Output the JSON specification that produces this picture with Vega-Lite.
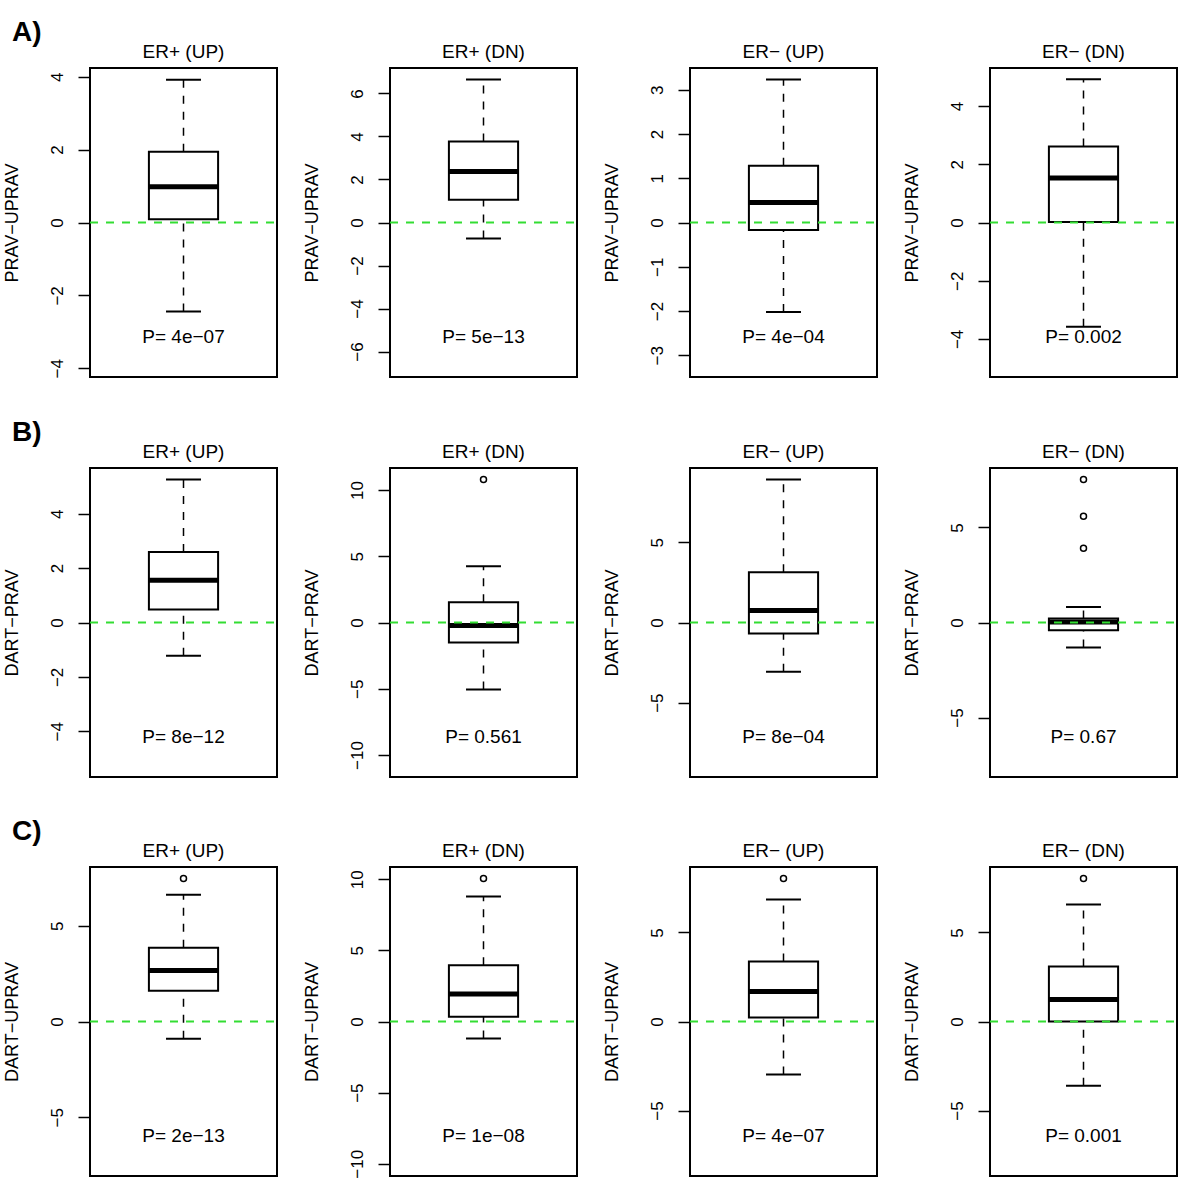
{
"$schema": "https://vega.github.io/schema/vega-lite/v6.json",
"background": "white",
"padding": {"left": 1, "top": 19, "right": 5, "bottom": 5},
"datasets": {
 "stats": [
  {"panel":"A1","lo":-2.44,"q1":0.09,"med":0.98,"q3":1.94,"hi":3.92,"p":"P= 4e−07"},
  {"panel":"A2","lo":-0.74,"q1":1.06,"med":2.37,"q3":3.77,"hi":6.65,"p":"P= 5e−13"},
  {"panel":"A3","lo":-2.02,"q1":-0.17,"med":0.45,"q3":1.28,"hi":3.23,"p":"P= 4e−04"},
  {"panel":"A4","lo":-3.58,"q1":0.02,"med":1.53,"q3":2.61,"hi":4.92,"p":"P= 0.002"},
  {"panel":"B1","lo":-1.22,"q1":0.48,"med":1.55,"q3":2.59,"hi":5.26,"p":"P= 8e−12"},
  {"panel":"B2","lo":-5.06,"q1":-1.51,"med":-0.23,"q3":1.53,"hi":4.25,"p":"P= 0.561"},
  {"panel":"B3","lo":-3.08,"q1":-0.69,"med":0.75,"q3":3.14,"hi":8.93,"p":"P= 8e−04"},
  {"panel":"B4","lo":-1.32,"q1":-0.41,"med":0.02,"q3":0.21,"hi":0.82,"p":"P= 0.67"},
  {"panel":"C1","lo":-0.9,"q1":1.6,"med":2.66,"q3":3.85,"hi":6.61,"p":"P= 2e−13"},
  {"panel":"C2","lo":-1.19,"q1":0.33,"med":1.94,"q3":3.95,"hi":8.79,"p":"P= 1e−08"},
  {"panel":"C3","lo":-2.98,"q1":0.22,"med":1.69,"q3":3.37,"hi":6.85,"p":"P= 4e−07"},
  {"panel":"C4","lo":-3.6,"q1":0.0,"med":1.24,"q3":3.09,"hi":6.57,"p":"P= 0.001"}
 ],
 "outliers": [
  {"panel":"B2","v":10.8},
  {"panel":"B4","v":7.53},
  {"panel":"B4","v":5.59},
  {"panel":"B4","v":3.91},
  {"panel":"C1","v":7.46},
  {"panel":"C2","v":10.06},
  {"panel":"C3","v":8.03},
  {"panel":"C4","v":8.03}
 ]
},
"spacing": 40,
"vconcat": [
 {"title": {"text": "A)", "anchor": "start", "frame": "bounds", "fontSize": 28, "fontWeight": "bold", "offset": -5, "dx": 10},
  "spacing": 113, "bounds": "flush",
  "hconcat": [
   {"width":187,"height":309,"title":"ER+ (UP)","data":{"name":"stats"},"transform":[{"filter":"datum.panel=='A1'"}],
    "encoding":{"y":{"field":"q1","type":"quantitative","scale":{"domain":[-4.24,4.24],"nice":false,"zero":false},"axis":{"values":[-4,-2,0,2,4]},"title":"PRAV−UPRAV"},"x":{"datum":0.5,"type":"quantitative","scale":{"domain":[0,1],"nice":false,"zero":false}}},
    "layer":[
     {"mark":{"type":"rule","strokeDash":[8,8],"strokeWidth":1.5},"encoding":{"y":{"field":"q3","type":"quantitative"},"y2":{"field":"hi"}}},
     {"mark":{"type":"rule","strokeDash":[8,8],"strokeWidth":1.5},"encoding":{"y":{"field":"lo","type":"quantitative"},"y2":{"field":"q1"}}},
     {"mark":{"type":"rule","strokeWidth":2},"encoding":{"x":{"datum":0.4065},"x2":{"datum":0.5935},"y":{"field":"hi","type":"quantitative"}}},
     {"mark":{"type":"rule","strokeWidth":2},"encoding":{"x":{"datum":0.4065},"x2":{"datum":0.5935},"y":{"field":"lo","type":"quantitative"}}},
     {"mark":{"type":"rect","fill":"white","stroke":"black","strokeWidth":2},"encoding":{"x":{"datum":0.315},"x2":{"datum":0.685},"y2":{"field":"q3"}}},
     {"mark":{"type":"rule","strokeWidth":5},"encoding":{"x":{"datum":0.315},"x2":{"datum":0.685},"y":{"field":"med","type":"quantitative"}}},
     {"mark":{"type":"rule","color":"#33dd33","strokeDash":[8,8],"strokeWidth":2},"encoding":{"x":{"datum":0},"x2":{"datum":1},"y":{"datum":0}}},
     {"mark":{"type":"text","fontSize":19},"encoding":{"y":{"datum":-3.14},"text":{"field":"p"}}}
    ]},
   {"width":187,"height":309,"title":"ER+ (DN)","data":{"name":"stats"},"transform":[{"filter":"datum.panel=='A2'"}],
    "encoding":{"y":{"field":"q1","type":"quantitative","scale":{"domain":[-7.18,7.18],"nice":false,"zero":false},"axis":{"values":[-6,-4,-2,0,2,4,6]},"title":"PRAV−UPRAV"},"x":{"datum":0.5,"type":"quantitative","scale":{"domain":[0,1],"nice":false,"zero":false}}},
    "layer":[
     {"mark":{"type":"rule","strokeDash":[8,8],"strokeWidth":1.5},"encoding":{"y":{"field":"q3","type":"quantitative"},"y2":{"field":"hi"}}},
     {"mark":{"type":"rule","strokeDash":[8,8],"strokeWidth":1.5},"encoding":{"y":{"field":"lo","type":"quantitative"},"y2":{"field":"q1"}}},
     {"mark":{"type":"rule","strokeWidth":2},"encoding":{"x":{"datum":0.4065},"x2":{"datum":0.5935},"y":{"field":"hi","type":"quantitative"}}},
     {"mark":{"type":"rule","strokeWidth":2},"encoding":{"x":{"datum":0.4065},"x2":{"datum":0.5935},"y":{"field":"lo","type":"quantitative"}}},
     {"mark":{"type":"rect","fill":"white","stroke":"black","strokeWidth":2},"encoding":{"x":{"datum":0.315},"x2":{"datum":0.685},"y2":{"field":"q3"}}},
     {"mark":{"type":"rule","strokeWidth":5},"encoding":{"x":{"datum":0.315},"x2":{"datum":0.685},"y":{"field":"med","type":"quantitative"}}},
     {"mark":{"type":"rule","color":"#33dd33","strokeDash":[8,8],"strokeWidth":2},"encoding":{"x":{"datum":0},"x2":{"datum":1},"y":{"datum":0}}},
     {"mark":{"type":"text","fontSize":19},"encoding":{"y":{"datum":-5.32},"text":{"field":"p"}}}
    ]},
   {"width":187,"height":309,"title":"ER− (UP)","data":{"name":"stats"},"transform":[{"filter":"datum.panel=='A3'"}],
    "encoding":{"y":{"field":"q1","type":"quantitative","scale":{"domain":[-3.49,3.49],"nice":false,"zero":false},"axis":{"values":[-3,-2,-1,0,1,2,3]},"title":"PRAV−UPRAV"},"x":{"datum":0.5,"type":"quantitative","scale":{"domain":[0,1],"nice":false,"zero":false}}},
    "layer":[
     {"mark":{"type":"rule","strokeDash":[8,8],"strokeWidth":1.5},"encoding":{"y":{"field":"q3","type":"quantitative"},"y2":{"field":"hi"}}},
     {"mark":{"type":"rule","strokeDash":[8,8],"strokeWidth":1.5},"encoding":{"y":{"field":"lo","type":"quantitative"},"y2":{"field":"q1"}}},
     {"mark":{"type":"rule","strokeWidth":2},"encoding":{"x":{"datum":0.4065},"x2":{"datum":0.5935},"y":{"field":"hi","type":"quantitative"}}},
     {"mark":{"type":"rule","strokeWidth":2},"encoding":{"x":{"datum":0.4065},"x2":{"datum":0.5935},"y":{"field":"lo","type":"quantitative"}}},
     {"mark":{"type":"rect","fill":"white","stroke":"black","strokeWidth":2},"encoding":{"x":{"datum":0.315},"x2":{"datum":0.685},"y2":{"field":"q3"}}},
     {"mark":{"type":"rule","strokeWidth":5},"encoding":{"x":{"datum":0.315},"x2":{"datum":0.685},"y":{"field":"med","type":"quantitative"}}},
     {"mark":{"type":"rule","color":"#33dd33","strokeDash":[8,8],"strokeWidth":2},"encoding":{"x":{"datum":0},"x2":{"datum":1},"y":{"datum":0}}},
     {"mark":{"type":"text","fontSize":19},"encoding":{"y":{"datum":-2.58},"text":{"field":"p"}}}
    ]},
   {"width":187,"height":309,"title":"ER− (DN)","data":{"name":"stats"},"transform":[{"filter":"datum.panel=='A4'"}],
    "encoding":{"y":{"field":"q1","type":"quantitative","scale":{"domain":[-5.31,5.31],"nice":false,"zero":false},"axis":{"values":[-4,-2,0,2,4]},"title":"PRAV−UPRAV"},"x":{"datum":0.5,"type":"quantitative","scale":{"domain":[0,1],"nice":false,"zero":false}}},
    "layer":[
     {"mark":{"type":"rule","strokeDash":[8,8],"strokeWidth":1.5},"encoding":{"y":{"field":"q3","type":"quantitative"},"y2":{"field":"hi"}}},
     {"mark":{"type":"rule","strokeDash":[8,8],"strokeWidth":1.5},"encoding":{"y":{"field":"lo","type":"quantitative"},"y2":{"field":"q1"}}},
     {"mark":{"type":"rule","strokeWidth":2},"encoding":{"x":{"datum":0.4065},"x2":{"datum":0.5935},"y":{"field":"hi","type":"quantitative"}}},
     {"mark":{"type":"rule","strokeWidth":2},"encoding":{"x":{"datum":0.4065},"x2":{"datum":0.5935},"y":{"field":"lo","type":"quantitative"}}},
     {"mark":{"type":"rect","fill":"white","stroke":"black","strokeWidth":2},"encoding":{"x":{"datum":0.315},"x2":{"datum":0.685},"y2":{"field":"q3"}}},
     {"mark":{"type":"rule","strokeWidth":5},"encoding":{"x":{"datum":0.315},"x2":{"datum":0.685},"y":{"field":"med","type":"quantitative"}}},
     {"mark":{"type":"rule","color":"#33dd33","strokeDash":[8,8],"strokeWidth":2},"encoding":{"x":{"datum":0},"x2":{"datum":1},"y":{"datum":0}}},
     {"mark":{"type":"text","fontSize":19},"encoding":{"y":{"datum":-3.93},"text":{"field":"p"}}}
    ]}
  ]},
 {"title": {"text": "B)", "anchor": "start", "frame": "bounds", "fontSize": 28, "fontWeight": "bold", "offset": -5, "dx": 10},
  "spacing": 113, "bounds": "flush",
  "hconcat": [
   {"width":187,"height":309,"title":"ER+ (UP)","data":{"name":"stats"},"transform":[{"filter":"datum.panel=='B1'"}],
    "encoding":{"y":{"field":"q1","type":"quantitative","scale":{"domain":[-5.68,5.68],"nice":false,"zero":false},"axis":{"values":[-4,-2,0,2,4]},"title":"DART−PRAV"},"x":{"datum":0.5,"type":"quantitative","scale":{"domain":[0,1],"nice":false,"zero":false}}},
    "layer":[
     {"mark":{"type":"rule","strokeDash":[8,8],"strokeWidth":1.5},"encoding":{"y":{"field":"q3","type":"quantitative"},"y2":{"field":"hi"}}},
     {"mark":{"type":"rule","strokeDash":[8,8],"strokeWidth":1.5},"encoding":{"y":{"field":"lo","type":"quantitative"},"y2":{"field":"q1"}}},
     {"mark":{"type":"rule","strokeWidth":2},"encoding":{"x":{"datum":0.4065},"x2":{"datum":0.5935},"y":{"field":"hi","type":"quantitative"}}},
     {"mark":{"type":"rule","strokeWidth":2},"encoding":{"x":{"datum":0.4065},"x2":{"datum":0.5935},"y":{"field":"lo","type":"quantitative"}}},
     {"mark":{"type":"rect","fill":"white","stroke":"black","strokeWidth":2},"encoding":{"x":{"datum":0.315},"x2":{"datum":0.685},"y2":{"field":"q3"}}},
     {"mark":{"type":"rule","strokeWidth":5},"encoding":{"x":{"datum":0.315},"x2":{"datum":0.685},"y":{"field":"med","type":"quantitative"}}},
     {"mark":{"type":"rule","color":"#33dd33","strokeDash":[8,8],"strokeWidth":2},"encoding":{"x":{"datum":0},"x2":{"datum":1},"y":{"datum":0}}},
     {"mark":{"type":"text","fontSize":19},"encoding":{"y":{"datum":-4.21},"text":{"field":"p"}}}
    ]},
   {"width":187,"height":309,"title":"ER+ (DN)","data":{"name":"stats"},"transform":[{"filter":"datum.panel=='B2'"}],
    "encoding":{"y":{"field":"q1","type":"quantitative","scale":{"domain":[-11.66,11.66],"nice":false,"zero":false},"axis":{"values":[-10,-5,0,5,10]},"title":"DART−PRAV"},"x":{"datum":0.5,"type":"quantitative","scale":{"domain":[0,1],"nice":false,"zero":false}}},
    "layer":[
     {"mark":{"type":"rule","strokeDash":[8,8],"strokeWidth":1.5},"encoding":{"y":{"field":"q3","type":"quantitative"},"y2":{"field":"hi"}}},
     {"mark":{"type":"rule","strokeDash":[8,8],"strokeWidth":1.5},"encoding":{"y":{"field":"lo","type":"quantitative"},"y2":{"field":"q1"}}},
     {"mark":{"type":"rule","strokeWidth":2},"encoding":{"x":{"datum":0.4065},"x2":{"datum":0.5935},"y":{"field":"hi","type":"quantitative"}}},
     {"mark":{"type":"rule","strokeWidth":2},"encoding":{"x":{"datum":0.4065},"x2":{"datum":0.5935},"y":{"field":"lo","type":"quantitative"}}},
     {"mark":{"type":"rect","fill":"white","stroke":"black","strokeWidth":2},"encoding":{"x":{"datum":0.315},"x2":{"datum":0.685},"y2":{"field":"q3"}}},
     {"mark":{"type":"rule","strokeWidth":5},"encoding":{"x":{"datum":0.315},"x2":{"datum":0.685},"y":{"field":"med","type":"quantitative"}}},
     {"data":{"name":"outliers"},"transform":[{"filter":"datum.panel=='B2'"}],"mark":{"type":"point","shape":"circle","filled":false,"size":36,"strokeWidth":1.5,"color":"black","opacity":1},"encoding":{"y":{"field":"v","type":"quantitative"}}},
     {"mark":{"type":"rule","color":"#33dd33","strokeDash":[8,8],"strokeWidth":2},"encoding":{"x":{"datum":0},"x2":{"datum":1},"y":{"datum":0}}},
     {"mark":{"type":"text","fontSize":19},"encoding":{"y":{"datum":-8.64},"text":{"field":"p"}}}
    ]},
   {"width":187,"height":309,"title":"ER− (UP)","data":{"name":"stats"},"transform":[{"filter":"datum.panel=='B3'"}],
    "encoding":{"y":{"field":"q1","type":"quantitative","scale":{"domain":[-9.64,9.64],"nice":false,"zero":false},"axis":{"values":[-5,0,5]},"title":"DART−PRAV"},"x":{"datum":0.5,"type":"quantitative","scale":{"domain":[0,1],"nice":false,"zero":false}}},
    "layer":[
     {"mark":{"type":"rule","strokeDash":[8,8],"strokeWidth":1.5},"encoding":{"y":{"field":"q3","type":"quantitative"},"y2":{"field":"hi"}}},
     {"mark":{"type":"rule","strokeDash":[8,8],"strokeWidth":1.5},"encoding":{"y":{"field":"lo","type":"quantitative"},"y2":{"field":"q1"}}},
     {"mark":{"type":"rule","strokeWidth":2},"encoding":{"x":{"datum":0.4065},"x2":{"datum":0.5935},"y":{"field":"hi","type":"quantitative"}}},
     {"mark":{"type":"rule","strokeWidth":2},"encoding":{"x":{"datum":0.4065},"x2":{"datum":0.5935},"y":{"field":"lo","type":"quantitative"}}},
     {"mark":{"type":"rect","fill":"white","stroke":"black","strokeWidth":2},"encoding":{"x":{"datum":0.315},"x2":{"datum":0.685},"y2":{"field":"q3"}}},
     {"mark":{"type":"rule","strokeWidth":5},"encoding":{"x":{"datum":0.315},"x2":{"datum":0.685},"y":{"field":"med","type":"quantitative"}}},
     {"mark":{"type":"rule","color":"#33dd33","strokeDash":[8,8],"strokeWidth":2},"encoding":{"x":{"datum":0},"x2":{"datum":1},"y":{"datum":0}}},
     {"mark":{"type":"text","fontSize":19},"encoding":{"y":{"datum":-7.14},"text":{"field":"p"}}}
    ]},
   {"width":187,"height":309,"title":"ER− (DN)","data":{"name":"stats"},"transform":[{"filter":"datum.panel=='B4'"}],
    "encoding":{"y":{"field":"q1","type":"quantitative","scale":{"domain":[-8.13,8.13],"nice":false,"zero":false},"axis":{"values":[-5,0,5]},"title":"DART−PRAV"},"x":{"datum":0.5,"type":"quantitative","scale":{"domain":[0,1],"nice":false,"zero":false}}},
    "layer":[
     {"mark":{"type":"rule","strokeDash":[8,8],"strokeWidth":1.5},"encoding":{"y":{"field":"q3","type":"quantitative"},"y2":{"field":"hi"}}},
     {"mark":{"type":"rule","strokeDash":[8,8],"strokeWidth":1.5},"encoding":{"y":{"field":"lo","type":"quantitative"},"y2":{"field":"q1"}}},
     {"mark":{"type":"rule","strokeWidth":2},"encoding":{"x":{"datum":0.4065},"x2":{"datum":0.5935},"y":{"field":"hi","type":"quantitative"}}},
     {"mark":{"type":"rule","strokeWidth":2},"encoding":{"x":{"datum":0.4065},"x2":{"datum":0.5935},"y":{"field":"lo","type":"quantitative"}}},
     {"mark":{"type":"rect","fill":"white","stroke":"black","strokeWidth":2},"encoding":{"x":{"datum":0.315},"x2":{"datum":0.685},"y2":{"field":"q3"}}},
     {"mark":{"type":"rule","strokeWidth":5},"encoding":{"x":{"datum":0.315},"x2":{"datum":0.685},"y":{"field":"med","type":"quantitative"}}},
     {"data":{"name":"outliers"},"transform":[{"filter":"datum.panel=='B4'"}],"mark":{"type":"point","shape":"circle","filled":false,"size":36,"strokeWidth":1.5,"color":"black","opacity":1},"encoding":{"y":{"field":"v","type":"quantitative"}}},
     {"mark":{"type":"rule","color":"#33dd33","strokeDash":[8,8],"strokeWidth":2},"encoding":{"x":{"datum":0},"x2":{"datum":1},"y":{"datum":0}}},
     {"mark":{"type":"text","fontSize":19},"encoding":{"y":{"datum":-6.02},"text":{"field":"p"}}}
    ]}
  ]},
 {"title": {"text": "C)", "anchor": "start", "frame": "bounds", "fontSize": 28, "fontWeight": "bold", "offset": -5, "dx": 10},
  "spacing": 113, "bounds": "flush",
  "hconcat": [
   {"width":187,"height":309,"title":"ER+ (UP)","data":{"name":"stats"},"transform":[{"filter":"datum.panel=='C1'"}],
    "encoding":{"y":{"field":"q1","type":"quantitative","scale":{"domain":[-8.06,8.06],"nice":false,"zero":false},"axis":{"values":[-5,0,5]},"title":"DART−UPRAV"},"x":{"datum":0.5,"type":"quantitative","scale":{"domain":[0,1],"nice":false,"zero":false}}},
    "layer":[
     {"mark":{"type":"rule","strokeDash":[8,8],"strokeWidth":1.5},"encoding":{"y":{"field":"q3","type":"quantitative"},"y2":{"field":"hi"}}},
     {"mark":{"type":"rule","strokeDash":[8,8],"strokeWidth":1.5},"encoding":{"y":{"field":"lo","type":"quantitative"},"y2":{"field":"q1"}}},
     {"mark":{"type":"rule","strokeWidth":2},"encoding":{"x":{"datum":0.4065},"x2":{"datum":0.5935},"y":{"field":"hi","type":"quantitative"}}},
     {"mark":{"type":"rule","strokeWidth":2},"encoding":{"x":{"datum":0.4065},"x2":{"datum":0.5935},"y":{"field":"lo","type":"quantitative"}}},
     {"mark":{"type":"rect","fill":"white","stroke":"black","strokeWidth":2},"encoding":{"x":{"datum":0.315},"x2":{"datum":0.685},"y2":{"field":"q3"}}},
     {"mark":{"type":"rule","strokeWidth":5},"encoding":{"x":{"datum":0.315},"x2":{"datum":0.685},"y":{"field":"med","type":"quantitative"}}},
     {"data":{"name":"outliers"},"transform":[{"filter":"datum.panel=='C1'"}],"mark":{"type":"point","shape":"circle","filled":false,"size":36,"strokeWidth":1.5,"color":"black","opacity":1},"encoding":{"y":{"field":"v","type":"quantitative"}}},
     {"mark":{"type":"rule","color":"#33dd33","strokeDash":[8,8],"strokeWidth":2},"encoding":{"x":{"datum":0},"x2":{"datum":1},"y":{"datum":0}}},
     {"mark":{"type":"text","fontSize":19},"encoding":{"y":{"datum":-5.97},"text":{"field":"p"}}}
    ]},
   {"width":187,"height":309,"title":"ER+ (DN)","data":{"name":"stats"},"transform":[{"filter":"datum.panel=='C2'"}],
    "encoding":{"y":{"field":"q1","type":"quantitative","scale":{"domain":[-10.86,10.86],"nice":false,"zero":false},"axis":{"values":[-10,-5,0,5,10]},"title":"DART−UPRAV"},"x":{"datum":0.5,"type":"quantitative","scale":{"domain":[0,1],"nice":false,"zero":false}}},
    "layer":[
     {"mark":{"type":"rule","strokeDash":[8,8],"strokeWidth":1.5},"encoding":{"y":{"field":"q3","type":"quantitative"},"y2":{"field":"hi"}}},
     {"mark":{"type":"rule","strokeDash":[8,8],"strokeWidth":1.5},"encoding":{"y":{"field":"lo","type":"quantitative"},"y2":{"field":"q1"}}},
     {"mark":{"type":"rule","strokeWidth":2},"encoding":{"x":{"datum":0.4065},"x2":{"datum":0.5935},"y":{"field":"hi","type":"quantitative"}}},
     {"mark":{"type":"rule","strokeWidth":2},"encoding":{"x":{"datum":0.4065},"x2":{"datum":0.5935},"y":{"field":"lo","type":"quantitative"}}},
     {"mark":{"type":"rect","fill":"white","stroke":"black","strokeWidth":2},"encoding":{"x":{"datum":0.315},"x2":{"datum":0.685},"y2":{"field":"q3"}}},
     {"mark":{"type":"rule","strokeWidth":5},"encoding":{"x":{"datum":0.315},"x2":{"datum":0.685},"y":{"field":"med","type":"quantitative"}}},
     {"data":{"name":"outliers"},"transform":[{"filter":"datum.panel=='C2'"}],"mark":{"type":"point","shape":"circle","filled":false,"size":36,"strokeWidth":1.5,"color":"black","opacity":1},"encoding":{"y":{"field":"v","type":"quantitative"}}},
     {"mark":{"type":"rule","color":"#33dd33","strokeDash":[8,8],"strokeWidth":2},"encoding":{"x":{"datum":0},"x2":{"datum":1},"y":{"datum":0}}},
     {"mark":{"type":"text","fontSize":19},"encoding":{"y":{"datum":-8.04},"text":{"field":"p"}}}
    ]},
   {"width":187,"height":309,"title":"ER− (UP)","data":{"name":"stats"},"transform":[{"filter":"datum.panel=='C3'"}],
    "encoding":{"y":{"field":"q1","type":"quantitative","scale":{"domain":[-8.67,8.67],"nice":false,"zero":false},"axis":{"values":[-5,0,5]},"title":"DART−UPRAV"},"x":{"datum":0.5,"type":"quantitative","scale":{"domain":[0,1],"nice":false,"zero":false}}},
    "layer":[
     {"mark":{"type":"rule","strokeDash":[8,8],"strokeWidth":1.5},"encoding":{"y":{"field":"q3","type":"quantitative"},"y2":{"field":"hi"}}},
     {"mark":{"type":"rule","strokeDash":[8,8],"strokeWidth":1.5},"encoding":{"y":{"field":"lo","type":"quantitative"},"y2":{"field":"q1"}}},
     {"mark":{"type":"rule","strokeWidth":2},"encoding":{"x":{"datum":0.4065},"x2":{"datum":0.5935},"y":{"field":"hi","type":"quantitative"}}},
     {"mark":{"type":"rule","strokeWidth":2},"encoding":{"x":{"datum":0.4065},"x2":{"datum":0.5935},"y":{"field":"lo","type":"quantitative"}}},
     {"mark":{"type":"rect","fill":"white","stroke":"black","strokeWidth":2},"encoding":{"x":{"datum":0.315},"x2":{"datum":0.685},"y2":{"field":"q3"}}},
     {"mark":{"type":"rule","strokeWidth":5},"encoding":{"x":{"datum":0.315},"x2":{"datum":0.685},"y":{"field":"med","type":"quantitative"}}},
     {"data":{"name":"outliers"},"transform":[{"filter":"datum.panel=='C3'"}],"mark":{"type":"point","shape":"circle","filled":false,"size":36,"strokeWidth":1.5,"color":"black","opacity":1},"encoding":{"y":{"field":"v","type":"quantitative"}}},
     {"mark":{"type":"rule","color":"#33dd33","strokeDash":[8,8],"strokeWidth":2},"encoding":{"x":{"datum":0},"x2":{"datum":1},"y":{"datum":0}}},
     {"mark":{"type":"text","fontSize":19},"encoding":{"y":{"datum":-6.42},"text":{"field":"p"}}}
    ]},
   {"width":187,"height":309,"title":"ER− (DN)","data":{"name":"stats"},"transform":[{"filter":"datum.panel=='C4'"}],
    "encoding":{"y":{"field":"q1","type":"quantitative","scale":{"domain":[-8.67,8.67],"nice":false,"zero":false},"axis":{"values":[-5,0,5]},"title":"DART−UPRAV"},"x":{"datum":0.5,"type":"quantitative","scale":{"domain":[0,1],"nice":false,"zero":false}}},
    "layer":[
     {"mark":{"type":"rule","strokeDash":[8,8],"strokeWidth":1.5},"encoding":{"y":{"field":"q3","type":"quantitative"},"y2":{"field":"hi"}}},
     {"mark":{"type":"rule","strokeDash":[8,8],"strokeWidth":1.5},"encoding":{"y":{"field":"lo","type":"quantitative"},"y2":{"field":"q1"}}},
     {"mark":{"type":"rule","strokeWidth":2},"encoding":{"x":{"datum":0.4065},"x2":{"datum":0.5935},"y":{"field":"hi","type":"quantitative"}}},
     {"mark":{"type":"rule","strokeWidth":2},"encoding":{"x":{"datum":0.4065},"x2":{"datum":0.5935},"y":{"field":"lo","type":"quantitative"}}},
     {"mark":{"type":"rect","fill":"white","stroke":"black","strokeWidth":2},"encoding":{"x":{"datum":0.315},"x2":{"datum":0.685},"y2":{"field":"q3"}}},
     {"mark":{"type":"rule","strokeWidth":5},"encoding":{"x":{"datum":0.315},"x2":{"datum":0.685},"y":{"field":"med","type":"quantitative"}}},
     {"data":{"name":"outliers"},"transform":[{"filter":"datum.panel=='C4'"}],"mark":{"type":"point","shape":"circle","filled":false,"size":36,"strokeWidth":1.5,"color":"black","opacity":1},"encoding":{"y":{"field":"v","type":"quantitative"}}},
     {"mark":{"type":"rule","color":"#33dd33","strokeDash":[8,8],"strokeWidth":2},"encoding":{"x":{"datum":0},"x2":{"datum":1},"y":{"datum":0}}},
     {"mark":{"type":"text","fontSize":19},"encoding":{"y":{"datum":-6.42},"text":{"field":"p"}}}
    ]}
  ]}
],
"config": {
 "font": "Liberation Sans",
 "view": {"stroke": "black", "strokeWidth": 2},
 "axisX": {"disable": true},
 "axisY": {"domain": false, "grid": false, "ticks": true, "tickSize": 12, "tickWidth": 1.5, "tickColor": "black", "labelFont": "Liberation Sans", "labelFontSize": 17, "labelColor": "black", "labelAngle": 270, "labelAlign": "center", "labelBaseline": "alphabetic", "labelPadding": 16, "labelOverlap": false, "titleFont": "Liberation Sans", "titleFontSize": 18, "titleFontWeight": "normal", "titleColor": "black", "titlePadding": 27},
 "title": {"font": "Liberation Sans", "fontSize": 19, "fontWeight": "normal", "color": "black", "baseline": "alphabetic", "offset": 6},
 "text": {"font": "Liberation Sans", "color": "black"},
 "rule": {"color": "black"}
}
}
